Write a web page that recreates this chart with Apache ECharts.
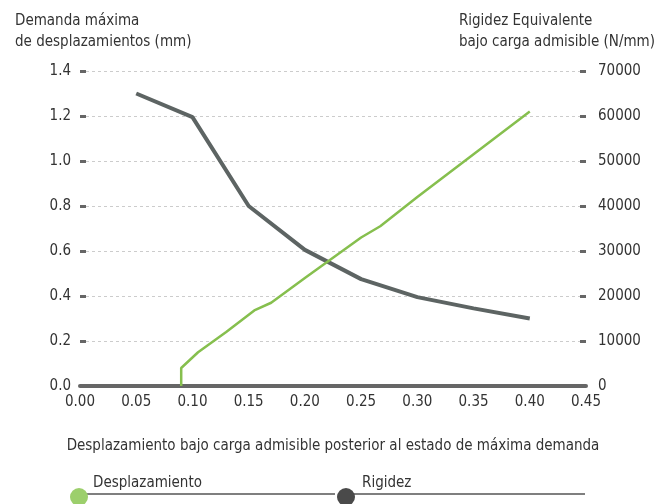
<!DOCTYPE html>
<html>
<head>
<meta charset="utf-8">
<script src="https://cdn.jsdelivr.net/npm/echarts@6/dist/echarts.min.js"></script>
<style>
  html, body { margin: 0; padding: 0; background: #fff; }
  #main { width: 666px; height: 504px; }
</style>
</head>
<body>
<div id="main"></div>
<script>
// datos
var xTicks = [0, 0.05, 0.10, 0.15, 0.20, 0.25, 0.30, 0.35, 0.40, 0.45];
var leftTicks = [0, 0.2, 0.4, 0.6, 0.8, 1.0, 1.2, 1.4];
var rightTicks = [0, 10000, 20000, 30000, 40000, 50000, 60000, 70000];

// curva oscura (eje izquierdo, mm)
var darkX = [0.05, 0.10, 0.15, 0.20, 0.25, 0.30, 0.35, 0.40];
var darkY = [1.30, 1.195, 0.80, 0.605, 0.475, 0.395, 0.345, 0.30];

// curva verde (eje derecho, N/mm)
var greenX = [0.09, 0.09, 0.105, 0.13, 0.155, 0.17, 0.20, 0.25, 0.267, 0.30, 0.35, 0.40];
var greenY = [0, 4000, 7500, 12000, 16800, 18500, 24000, 33000, 35500, 42000, 51500, 61000];

var FONT = '"Liberation Sans Narrow", "DejaVu Sans Condensed", "Liberation Sans", sans-serif';
var TXT = '#333';

function pairs(xs, ys) {
  return xs.map(function (x, i) { return [x, ys[i]]; });
}

var myChart = echarts.init(document.getElementById('main'));

var option = {
  animation: false,
  textStyle: { fontFamily: FONT, color: TXT },
  grid: { left: 80, right: 80, top: 71, bottom: 118 },
  xAxis: {
    type: 'value',
    min: xTicks[0],
    max: xTicks[xTicks.length - 1],
    interval: 0.05,
    name: 'Desplazamiento bajo carga admisible posterior al estado de máxima demanda',
    nameLocation: 'middle',
    nameGap: 53,
    nameTextStyle: { fontSize: 15, color: TXT, fontFamily: FONT },
    axisLine: { show: true, onZero: false, lineStyle: { color: '#666', width: 4 } },
    axisTick: { show: false },
    splitLine: { show: false },
    axisLabel: {
      fontSize: 15, color: TXT, fontFamily: FONT, margin: 9,
      formatter: function (v) { return v.toFixed(2); }
    }
  },
  yAxis: [
    {
      type: 'value',
      min: leftTicks[0],
      max: leftTicks[leftTicks.length - 1],
      interval: 0.2,
      axisLine: { show: false },
      axisTick: { show: true, inside: true, length: 6, lineStyle: { color: '#666', width: 3 } },
      splitLine: { show: true, lineStyle: { color: '#ccc', type: [3, 3], width: 1 } },
      axisLabel: {
        fontSize: 15, color: TXT, fontFamily: FONT, margin: 9,
        formatter: function (v) { return v.toFixed(1); }
      }
    },
    {
      type: 'value',
      min: rightTicks[0],
      max: rightTicks[rightTicks.length - 1],
      interval: 10000,
      axisLine: { show: false },
      axisTick: { show: true, inside: true, length: 6, lineStyle: { color: '#666', width: 3 } },
      splitLine: { show: false },
      axisLabel: {
        fontSize: 15, color: TXT, fontFamily: FONT, margin: 12,
        formatter: function (v) { return String(v); }
      }
    }
  ],
  series: [
    {
      name: 'Desplazamiento',
      type: 'line',
      yAxisIndex: 1,
      data: pairs(greenX, greenY),
      symbol: 'none',
      lineStyle: { color: '#86bf4e', width: 2.5 },
      z: 3
    },
    {
      name: 'Rigidez',
      type: 'line',
      yAxisIndex: 0,
      data: pairs(darkX, darkY),
      symbol: 'none',
      lineStyle: { color: '#5d6463', width: 4 },
      z: 2
    }
  ],
  graphic: [
    { type: 'text', left: 15, top: 11,
      style: { text: 'Demanda máxima\nde desplazamientos (mm)', font: '15px ' + FONT, fill: TXT, lineHeight: 21 } },
    { type: 'text', right: 11, top: 11,
      style: { text: 'Rigidez Equivalente\nbajo carga admisible (N/mm)', font: '15px ' + FONT, fill: TXT, lineHeight: 21, align: 'right' } },
    // leyenda
    { type: 'line', shape: { x1: 79, y1: 494, x2: 335, y2: 494 }, style: { stroke: '#555', lineWidth: 1.5 } },
    { type: 'line', shape: { x1: 346, y1: 494, x2: 585, y2: 494 }, style: { stroke: '#555', lineWidth: 1.5 } },
    { type: 'circle', shape: { cx: 79, cy: 497, r: 9 }, style: { fill: '#9ccf6c' } },
    { type: 'circle', shape: { cx: 346, cy: 497, r: 9 }, style: { fill: '#4a4a4a' } },
    { type: 'text', left: 93, top: 476, style: { text: 'Desplazamiento', font: '15px ' + FONT, fill: TXT } },
    { type: 'text', left: 362, top: 476, style: { text: 'Rigidez', font: '15px ' + FONT, fill: TXT } }
  ]
};

myChart.setOption(option);

window.addEventListener('resize', function () {
  myChart.resize();
});
</script>
</body>
</html>
